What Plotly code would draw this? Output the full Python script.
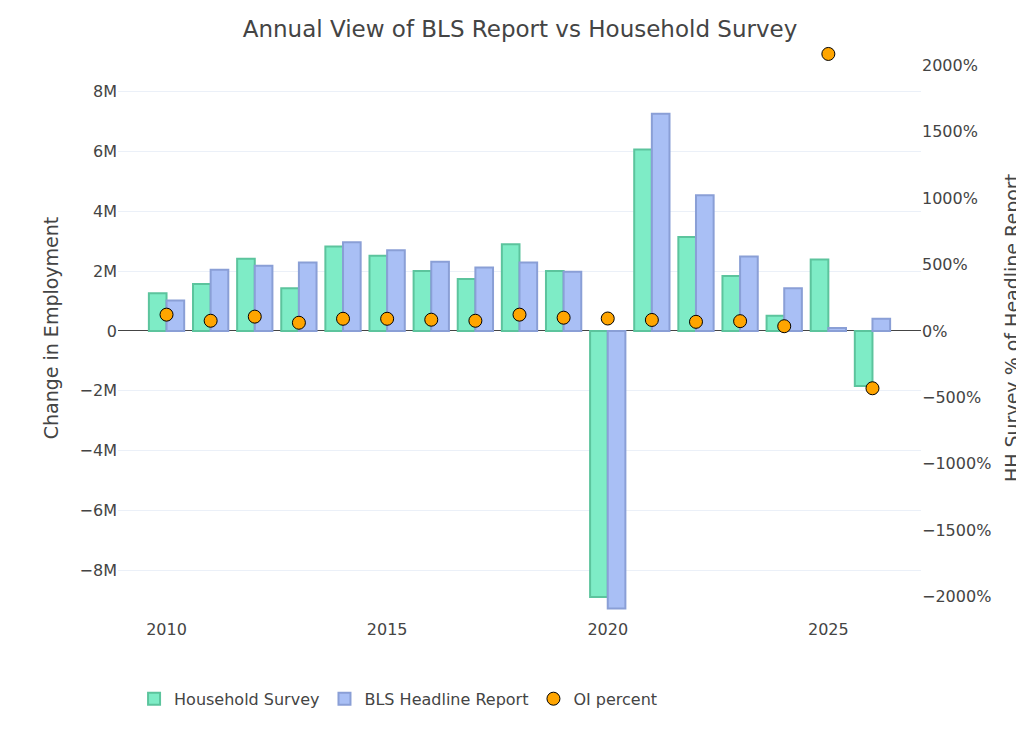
import plotly.graph_objects as go

years = list(range(2010, 2027))
household = [1.26e6, 1.57e6, 2.42e6, 1.43e6, 2.83e6, 2.52e6, 2.01e6, 1.74e6, 2.90e6, 2.01e6,
             -8.90e6, 6.07e6, 3.14e6, 1.84e6, 0.51e6, 2.39e6, -1.84e6]
bls = [1.02e6, 2.05e6, 2.18e6, 2.29e6, 2.97e6, 2.70e6, 2.32e6, 2.12e6, 2.29e6, 1.98e6,
       -9.28e6, 7.27e6, 4.54e6, 2.49e6, 1.43e6, 0.10e6, 0.41e6]
oi_percent = [123, 77, 108, 62, 92, 92, 85, 77, 123, 100, 94, 83, 69, 74, 36, 2085, -431]

fig = go.Figure()
fig.add_trace(go.Bar(x=years, y=household, name="Household Survey",
                     marker=dict(color="#7eecc6", line=dict(color="#5cc49d", width=2))))
fig.add_trace(go.Bar(x=years, y=bls, name="BLS Headline Report",
                     marker=dict(color="#a9bff5", line=dict(color="#8a9fd6", width=2))))
fig.add_trace(go.Scatter(x=years, y=oi_percent, name="OI percent", mode="markers", yaxis="y2",
                         marker=dict(color="orange", size=13, line=dict(color="black", width=1))))

fig.update_layout(
    template="plotly_white",
    width=1024, height=731,
    title=dict(text="Annual View of BLS Report vs Household Survey", x=0.5, y=0.982,
               font=dict(size=23)),
    font=dict(family="DejaVu Sans", size=16, color="#444"),
    margin=dict(l=110, r=109, t=30, b=121),
    barmode="group",
    yaxis=dict(title="Change in Employment", tickformat="~s", range=[-9.6e6, 9.8e6],
               zeroline=True, zerolinecolor="#444", zerolinewidth=1),
    yaxis2=dict(title="HH Survey % of Headline Report", overlaying="y", side="right",
                ticksuffix="%", range=[-2160, 2205], showgrid=False, zeroline=False),
    xaxis=dict(range=[2008.9, 2027.1], tickvals=[2010, 2015, 2020, 2025]),
    legend=dict(orientation="h", x=0.02, y=-0.11, font=dict(size=16)),
)

fig.write_html("out.html")
